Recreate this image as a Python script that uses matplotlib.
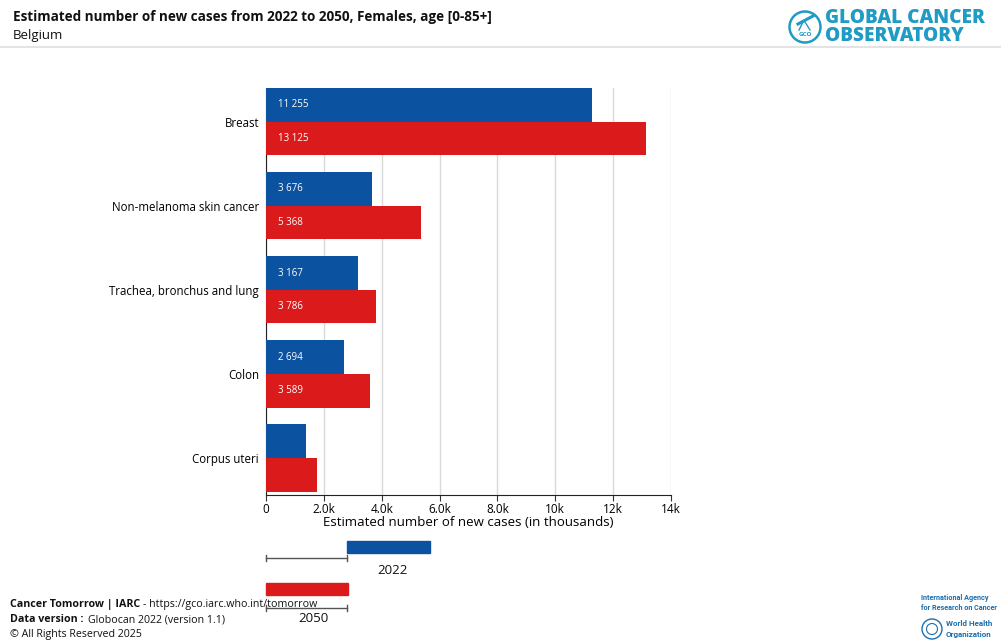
import matplotlib
matplotlib.use("Agg")
import matplotlib.pyplot as plt
from matplotlib.patches import Rectangle, Ellipse
from matplotlib.lines import Line2D
import numpy as np

plt.rcParams['font.family'] = ['Open Sans', 'Noto Sans', 'DejaVu Sans']

categories = ["Breast", "Non-melanoma skin cancer", "Trachea, bronchus and lung", "Colon", "Corpus uteri"]
values_2022 = [11255, 3676, 3167, 2694, 1383]
values_2050 = [13125, 5368, 3786, 3589, 1752]
labels_2022 = ["11 255", "3 676", "3 167", "2 694", ""]
labels_2050 = ["13 125", "5 368", "3 786", "3 589", ""]
xticks = [0, 2000, 4000, 6000, 8000, 10000, 12000, 14000]
xticklabels = ["0", "2.0k", "4.0k", "6.0k", "8.0k", "10k", "12k", "14k"]

BLUE = "#0b52a0"
RED = "#db1a1c"
TEAL = "#1f9bc4"
IARC_BLUE = "#1a6fb0"

W, H = 1001, 643
fig = plt.figure(figsize=(W / 100, H / 100), dpi=100)

def fx(px):
    return px / W

def fy(py):
    return 1 - py / H

ax = fig.add_axes([fx(266), fy(495), fx(671) - fx(266), fy(88) - fy(495)])
n = len(categories)
y = np.arange(n)
h = 0.4
ax.barh(y - h / 2, values_2022, height=h, color=BLUE, zorder=3)
ax.barh(y + h / 2, values_2050, height=h, color=RED, zorder=3)
for i in range(n):
    if labels_2022[i]:
        ax.text(420, y[i] - h / 2, labels_2022[i], color="white", fontsize=7, va="center", ha="left", zorder=4)
    if labels_2050[i]:
        ax.text(420, y[i] + h / 2, labels_2050[i], color="white", fontsize=7, va="center", ha="left", zorder=4)
ax.set_ylim(4.44, -0.40)
ax.set_xlim(0, 14000)
ax.set_yticks(y)
ax.set_yticklabels(categories, fontsize=8.3)
ax.tick_params(axis='y', length=0, pad=5)
ax.set_xticks(xticks)
ax.set_xticklabels(xticklabels, fontsize=8.5)
ax.tick_params(axis='x', length=4, color="#333333", pad=2)
ax.grid(axis='x', color="#d9d9d9", linewidth=1, zorder=0)
for s in ["top", "right"]:
    ax.spines[s].set_visible(False)
ax.spines["left"].set_color("#222222")
ax.spines["bottom"].set_color("#222222")
ax.set_xlabel("Estimated number of new cases (in thousands)", fontsize=9.5, labelpad=0)

# Header
fig.text(fx(13), fy(17), "Estimated number of new cases from 2022 to 2050, Females, age [0-85+]",
         fontsize=9.75, fontweight="bold", va="center", ha="left", color="#111111")
fig.text(fx(13), fy(35), "Belgium", fontsize=9.5, va="center", ha="left", color="#111111")
fig.add_artist(Line2D([0, 1], [fy(47), fy(47)], color="#e3e3e3", lw=1.5))

# GCO logo
fig.add_artist(Ellipse((fx(805), fy(27)), 31 / W, 31 / H, transform=fig.transFigure, fill=False,
                       edgecolor=TEAL, lw=1.8))
fig.text(fx(805), fy(34), "GCO", fontsize=4.5, color=TEAL, ha="center", va="center", fontweight="bold")
fig.add_artist(Line2D([fx(798), fx(813)], [fy(24), fy(16)], color=TEAL, lw=2.2))
fig.add_artist(Line2D([fx(803), fx(799)], [fy(22), fy(30)], color=TEAL, lw=1))
fig.add_artist(Line2D([fx(805), fx(810)], [fy(22), fy(30)], color=TEAL, lw=1))
fig.text(fx(825), fy(18), "GLOBAL CANCER", fontsize=13.7, fontweight="heavy", color=TEAL, va="center", ha="left")
fig.text(fx(825), fy(36), "OBSERVATORY", fontsize=13.7, fontweight="heavy", color=TEAL, va="center", ha="left")

# Legend (custom)
fig.add_artist(Rectangle((fx(347), fy(553)), fx(430) - fx(347), fy(541) - fy(553),
                         transform=fig.transFigure, color=BLUE))
fig.add_artist(Line2D([fx(266), fx(347)], [fy(558), fy(558)], color="#555555", lw=1))
fig.add_artist(Line2D([fx(266), fx(266)], [fy(555), fy(561)], color="#555555", lw=1))
fig.add_artist(Line2D([fx(347), fx(347)], [fy(555), fy(561)], color="#555555", lw=1))
fig.text(fx(392), fy(570), "2022", fontsize=9.5, ha="center", va="center", color="#111111")
fig.add_artist(Rectangle((fx(266), fy(595)), fx(348) - fx(266), fy(583) - fy(595),
                         transform=fig.transFigure, color=RED))
fig.add_artist(Line2D([fx(266), fx(347)], [fy(608), fy(608)], color="#555555", lw=1))
fig.add_artist(Line2D([fx(266), fx(266)], [fy(605), fy(611)], color="#555555", lw=1))
fig.add_artist(Line2D([fx(347), fx(347)], [fy(605), fy(611)], color="#555555", lw=1))
fig.text(fx(313), fy(619), "2050", fontsize=9.5, ha="center", va="center", color="#111111")

# Footer
renderer = fig.canvas.get_renderer()
t1 = fig.text(fx(10), fy(605), "Cancer Tomorrow | IARC", fontsize=7.7, ha="left", va="center",
              color="#111111", fontweight="bold")
bb = t1.get_window_extent(renderer)
fig.text((bb.x1 + 3) / W, fy(605), "- https://gco.iarc.who.int/tomorrow", fontsize=7.7, ha="left",
         va="center", color="#111111")
t2 = fig.text(fx(10), fy(620), "Data version :", fontsize=7.7, ha="left", va="center", color="#111111",
              fontweight="bold")
bb2 = t2.get_window_extent(renderer)
fig.text((bb2.x1 + 4) / W, fy(620), "Globocan 2022 (version 1.1)", fontsize=7.7, ha="left", va="center",
         color="#111111")
fig.text(fx(10), fy(634), "© All Rights Reserved 2025", fontsize=7.7, ha="left", va="center", color="#111111")

# IARC / WHO logo
fig.text(fx(921), fy(598), "International Agency", fontsize=5.2, color=IARC_BLUE, ha="left", va="center",
         fontweight="bold", family=["Roboto", "DejaVu Sans"])
fig.text(fx(921), fy(608), "for Research on Cancer", fontsize=5.2, color=IARC_BLUE, ha="left", va="center",
         fontweight="bold", family=["Roboto", "DejaVu Sans"])
fig.add_artist(Ellipse((fx(932), fy(629)), 20 / W, 20 / H, transform=fig.transFigure, fill=False,
                       edgecolor=IARC_BLUE, lw=1))
fig.add_artist(Ellipse((fx(932), fy(629)), 11 / W, 11 / H, transform=fig.transFigure, fill=False,
                       edgecolor=IARC_BLUE, lw=0.8))
fig.text(fx(946), fy(624), "World Health", fontsize=5.8, color=IARC_BLUE, ha="left", va="center",
         fontweight="bold", family=["Roboto", "DejaVu Sans"])
fig.text(fx(946), fy(634), "Organization", fontsize=5.8, color=IARC_BLUE, ha="left", va="center",
         fontweight="bold", family=["Roboto", "DejaVu Sans"])

fig.savefig("out.png", dpi=100)
